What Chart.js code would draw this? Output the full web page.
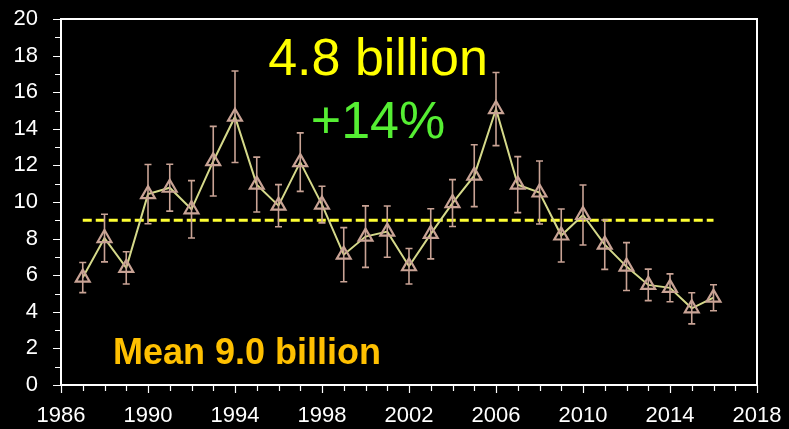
<!DOCTYPE html>
<html>
<head>
<meta charset="utf-8">
<script src="https://cdn.jsdelivr.net/npm/chart.js@4.4.1/dist/chart.umd.min.js"></script>
<style>
  html, body { margin: 0; padding: 0; background: #000; }
  #wrap { position: relative; width: 789px; height: 429px; }
</style>
</head>
<body>
<div id="wrap"><canvas id="chart" width="789" height="429"></canvas></div>
<script>
// Data
const years = [1987, 1988, 1989, 1990, 1991, 1992, 1993, 1994, 1995, 1996,
               1997, 1998, 1999, 2000, 2001, 2002, 2003, 2004, 2005, 2006,
               2007, 2008, 2009, 2010, 2011, 2012, 2013, 2014, 2015, 2016];
const values = [5.87, 8.03, 6.40, 10.43, 10.78, 9.60, 12.23, 14.66, 10.95, 9.80,
                12.18, 9.86, 7.12, 8.11, 8.38, 6.49, 8.26, 9.94, 11.44, 15.08,
                10.95, 10.52, 8.17, 9.29, 7.67, 6.47, 5.47, 5.31, 4.19, 4.77];
const errors = [0.82, 1.30, 0.88, 1.62, 1.28, 1.57, 1.90, 2.50, 1.50, 1.15,
                1.60, 1.00, 1.48, 1.68, 1.40, 0.97, 1.37, 1.28, 1.69, 2.00,
                1.53, 1.72, 1.45, 1.64, 1.35, 1.31, 0.86, 0.76, 0.85, 0.71];
const meanValue = 9.0;
const meanRange = [1987, 2016];
const xTicks = [1986, 1990, 1994, 1998, 2002, 2006, 2010, 2014, 2018];
const yTicks = [0, 2, 4, 6, 8, 10, 12, 14, 16, 18, 20];

const markerColor = '#c9a395';
const lineColor = '#d5d98a';

// Error bars drawn through the chart's own scales
const errorBars = {
    id: 'errorBars',
    afterDatasetsDraw(chart) {
        const ctx = chart.ctx;
        const xs = chart.scales.x, ys = chart.scales.y;
        ctx.save();
        ctx.strokeStyle = markerColor;
        ctx.lineWidth = 1.6;
        years.forEach((yr, i) => {
            const px = xs.getPixelForValue(yr);
            const top = ys.getPixelForValue(values[i] + errors[i]);
            const bot = ys.getPixelForValue(values[i] - errors[i]);
            ctx.beginPath();
            ctx.moveTo(px, top); ctx.lineTo(px, bot);
            ctx.moveTo(px - 3.5, top); ctx.lineTo(px + 3.5, top);
            ctx.moveTo(px - 3.5, bot); ctx.lineTo(px + 3.5, bot);
            ctx.stroke();
        });
        ctx.restore();
    }
};

// Plot frame, minor/major ticks and text labels
const frame = {
    id: 'frame',
    afterDraw(chart) {
        const ctx = chart.ctx;
        const a = chart.chartArea;
        const xs = chart.scales.x, ys = chart.scales.y;
        ctx.save();
        ctx.strokeStyle = '#ffffff';
        ctx.lineWidth = 2;
        ctx.strokeRect(a.left, a.top, a.right - a.left, a.bottom - a.top);

        ctx.lineWidth = 1.2;
        ctx.beginPath();
        for (let v = 0; v <= 20; v++) {
            const py = Math.round(ys.getPixelForValue(v)) + 0.5;
            const len = v % 2 === 0 ? 8 : 6;
            ctx.moveTo(a.left - len, py); ctx.lineTo(a.left, py);
        }
        for (let yr = 1986; yr <= 2018; yr++) {
            const px = Math.round(xs.getPixelForValue(yr)) + 0.5;
            const len = (yr - 1986) % 4 === 0 ? 8 : 6;
            ctx.moveTo(px, a.bottom); ctx.lineTo(px, a.bottom + len);
        }
        ctx.stroke();

        ctx.textAlign = 'center';
        ctx.textBaseline = 'alphabetic';
        ctx.font = '52px "Liberation Sans", Arial, sans-serif';
        ctx.fillStyle = '#ffff00';
        ctx.fillText('4.8 billion', 378, 75);
        ctx.fillStyle = '#55ee33';
        ctx.fillText('+14%', 378, 138);
        ctx.textAlign = 'left';
        ctx.font = 'bold 36px "Liberation Sans", Arial, sans-serif';
        ctx.fillStyle = '#ffc000';
        ctx.fillText('Mean 9.0 billion', 113, 364);
        ctx.restore();
    }
};

const chart = new Chart(document.getElementById('chart'), {
    type: 'scatter',
    data: {
        datasets: [{
            label: 'Mean',
            data: meanRange.map(yr => ({ x: yr, y: meanValue })),
            showLine: true,
            borderColor: '#ffff33',
            borderWidth: 3,
            borderDash: [9, 4],
            pointRadius: 0,
            order: 2
        }, {
            label: 'Series',
            data: years.map((yr, i) => ({ x: yr, y: values[i] })),
            showLine: true,
            borderColor: lineColor,
            borderWidth: 2,
            pointStyle: 'triangle',
            pointRadius: 8,
            pointBorderWidth: 2.2,
            pointBorderColor: markerColor,
            pointBackgroundColor: 'rgba(0,0,0,0)',
            order: 1
        }]
    },
    options: {
        responsive: false,
        animation: false,
        layout: { padding: { top: 19, right: 32, left: 0, bottom: 0 } },
        plugins: { legend: { display: false }, tooltip: { enabled: false } },
        scales: {
            x: {
                type: 'linear',
                min: 1986,
                max: 2018,
                afterBuildTicks: s => { s.ticks = xTicks.map(v => ({ value: v })); },
                grid: { display: false },
                border: { display: false },
                ticks: {
                    color: '#ffffff',
                    font: { family: '"Liberation Sans", Arial, sans-serif', size: 22 },
                    padding: 10,
                    maxRotation: 0,
                    autoSkip: false,
                    callback: v => String(v)
                },
                afterFit: s => { s.height = 44; s.paddingLeft = 0; s.paddingRight = 0; }
            },
            y: {
                min: 0,
                max: 20,
                afterBuildTicks: s => { s.ticks = yTicks.map(v => ({ value: v })); },
                grid: { display: false },
                border: { display: false },
                ticks: {
                    color: '#ffffff',
                    font: { family: '"Liberation Sans", Arial, sans-serif', size: 22 },
                    padding: 15
                },
                afterFit: s => { s.width = 61; s.paddingTop = 0; s.paddingBottom = 0; }
            }
        }
    },
    plugins: [errorBars, frame]
});
</script>
</body>
</html>
